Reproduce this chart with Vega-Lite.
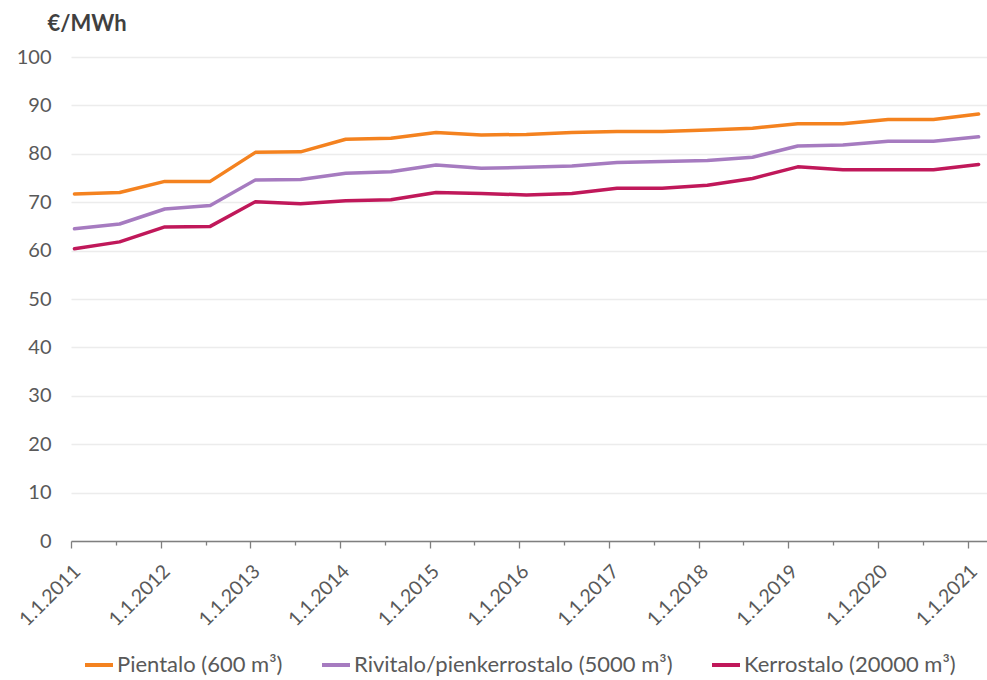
{
  "$schema": "https://vega.github.io/schema/vega-lite/v6.json",
  "width": 916,
  "height": 484,
  "autosize": {"type": "none"},
  "padding": {"left": 71, "top": 57, "right": 0, "bottom": 139},
  "background": "white",
  "config": {
    "view": {"stroke": null},
    "font": "Lato",
    "axis": {"labelFont": "Lato", "titleFont": "Lato", "labelColor": "#595959", "titleColor": "#404040"},
    "legend": {"labelFont": "Lato"}
  },
  "datasets": {
    "hinnat": [
      {"pvm": "2011-01-15", "sarja": "Pientalo (600 m³)", "arvo": 71.7},
      {"pvm": "2011-07-18", "sarja": "Pientalo (600 m³)", "arvo": 72.0},
      {"pvm": "2012-01-18", "sarja": "Pientalo (600 m³)", "arvo": 74.3},
      {"pvm": "2012-07-21", "sarja": "Pientalo (600 m³)", "arvo": 74.3},
      {"pvm": "2013-01-21", "sarja": "Pientalo (600 m³)", "arvo": 80.3},
      {"pvm": "2013-07-24", "sarja": "Pientalo (600 m³)", "arvo": 80.4},
      {"pvm": "2014-01-24", "sarja": "Pientalo (600 m³)", "arvo": 83.0},
      {"pvm": "2014-07-27", "sarja": "Pientalo (600 m³)", "arvo": 83.2},
      {"pvm": "2015-01-27", "sarja": "Pientalo (600 m³)", "arvo": 84.4},
      {"pvm": "2015-07-30", "sarja": "Pientalo (600 m³)", "arvo": 83.9},
      {"pvm": "2016-01-30", "sarja": "Pientalo (600 m³)", "arvo": 84.0},
      {"pvm": "2016-08-02", "sarja": "Pientalo (600 m³)", "arvo": 84.4},
      {"pvm": "2017-02-02", "sarja": "Pientalo (600 m³)", "arvo": 84.6},
      {"pvm": "2017-08-05", "sarja": "Pientalo (600 m³)", "arvo": 84.6},
      {"pvm": "2018-02-05", "sarja": "Pientalo (600 m³)", "arvo": 84.9},
      {"pvm": "2018-08-08", "sarja": "Pientalo (600 m³)", "arvo": 85.3},
      {"pvm": "2019-02-08", "sarja": "Pientalo (600 m³)", "arvo": 86.2},
      {"pvm": "2019-08-11", "sarja": "Pientalo (600 m³)", "arvo": 86.2},
      {"pvm": "2020-02-11", "sarja": "Pientalo (600 m³)", "arvo": 87.1},
      {"pvm": "2020-08-14", "sarja": "Pientalo (600 m³)", "arvo": 87.1},
      {"pvm": "2021-02-14", "sarja": "Pientalo (600 m³)", "arvo": 88.2},
      {"pvm": "2011-01-15", "sarja": "Rivitalo/pienkerrostalo (5000 m³)", "arvo": 64.5},
      {"pvm": "2011-07-18", "sarja": "Rivitalo/pienkerrostalo (5000 m³)", "arvo": 65.5},
      {"pvm": "2012-01-18", "sarja": "Rivitalo/pienkerrostalo (5000 m³)", "arvo": 68.6},
      {"pvm": "2012-07-21", "sarja": "Rivitalo/pienkerrostalo (5000 m³)", "arvo": 69.3},
      {"pvm": "2013-01-21", "sarja": "Rivitalo/pienkerrostalo (5000 m³)", "arvo": 74.6},
      {"pvm": "2013-07-24", "sarja": "Rivitalo/pienkerrostalo (5000 m³)", "arvo": 74.7},
      {"pvm": "2014-01-24", "sarja": "Rivitalo/pienkerrostalo (5000 m³)", "arvo": 76.0},
      {"pvm": "2014-07-27", "sarja": "Rivitalo/pienkerrostalo (5000 m³)", "arvo": 76.3},
      {"pvm": "2015-01-27", "sarja": "Rivitalo/pienkerrostalo (5000 m³)", "arvo": 77.7},
      {"pvm": "2015-07-30", "sarja": "Rivitalo/pienkerrostalo (5000 m³)", "arvo": 77.0},
      {"pvm": "2016-01-30", "sarja": "Rivitalo/pienkerrostalo (5000 m³)", "arvo": 77.2},
      {"pvm": "2016-08-02", "sarja": "Rivitalo/pienkerrostalo (5000 m³)", "arvo": 77.5},
      {"pvm": "2017-02-02", "sarja": "Rivitalo/pienkerrostalo (5000 m³)", "arvo": 78.2},
      {"pvm": "2017-08-05", "sarja": "Rivitalo/pienkerrostalo (5000 m³)", "arvo": 78.4},
      {"pvm": "2018-02-05", "sarja": "Rivitalo/pienkerrostalo (5000 m³)", "arvo": 78.6},
      {"pvm": "2018-08-08", "sarja": "Rivitalo/pienkerrostalo (5000 m³)", "arvo": 79.3},
      {"pvm": "2019-02-08", "sarja": "Rivitalo/pienkerrostalo (5000 m³)", "arvo": 81.6},
      {"pvm": "2019-08-11", "sarja": "Rivitalo/pienkerrostalo (5000 m³)", "arvo": 81.8},
      {"pvm": "2020-02-11", "sarja": "Rivitalo/pienkerrostalo (5000 m³)", "arvo": 82.6},
      {"pvm": "2020-08-14", "sarja": "Rivitalo/pienkerrostalo (5000 m³)", "arvo": 82.6},
      {"pvm": "2021-02-14", "sarja": "Rivitalo/pienkerrostalo (5000 m³)", "arvo": 83.5},
      {"pvm": "2011-01-15", "sarja": "Kerrostalo (20000 m³)", "arvo": 60.4},
      {"pvm": "2011-07-18", "sarja": "Kerrostalo (20000 m³)", "arvo": 61.8},
      {"pvm": "2012-01-18", "sarja": "Kerrostalo (20000 m³)", "arvo": 64.9},
      {"pvm": "2012-07-21", "sarja": "Kerrostalo (20000 m³)", "arvo": 65.0},
      {"pvm": "2013-01-21", "sarja": "Kerrostalo (20000 m³)", "arvo": 70.1},
      {"pvm": "2013-07-24", "sarja": "Kerrostalo (20000 m³)", "arvo": 69.7},
      {"pvm": "2014-01-24", "sarja": "Kerrostalo (20000 m³)", "arvo": 70.3},
      {"pvm": "2014-07-27", "sarja": "Kerrostalo (20000 m³)", "arvo": 70.5},
      {"pvm": "2015-01-27", "sarja": "Kerrostalo (20000 m³)", "arvo": 72.0},
      {"pvm": "2015-07-30", "sarja": "Kerrostalo (20000 m³)", "arvo": 71.8},
      {"pvm": "2016-01-30", "sarja": "Kerrostalo (20000 m³)", "arvo": 71.5},
      {"pvm": "2016-08-02", "sarja": "Kerrostalo (20000 m³)", "arvo": 71.8},
      {"pvm": "2017-02-02", "sarja": "Kerrostalo (20000 m³)", "arvo": 72.9},
      {"pvm": "2017-08-05", "sarja": "Kerrostalo (20000 m³)", "arvo": 72.9},
      {"pvm": "2018-02-05", "sarja": "Kerrostalo (20000 m³)", "arvo": 73.5},
      {"pvm": "2018-08-08", "sarja": "Kerrostalo (20000 m³)", "arvo": 74.9},
      {"pvm": "2019-02-08", "sarja": "Kerrostalo (20000 m³)", "arvo": 77.3},
      {"pvm": "2019-08-11", "sarja": "Kerrostalo (20000 m³)", "arvo": 76.7},
      {"pvm": "2020-02-11", "sarja": "Kerrostalo (20000 m³)", "arvo": 76.7},
      {"pvm": "2020-08-14", "sarja": "Kerrostalo (20000 m³)", "arvo": 76.7},
      {"pvm": "2021-02-14", "sarja": "Kerrostalo (20000 m³)", "arvo": 77.8}
    ]
  },
  "data": {"name": "hinnat"},
  "mark": {"type": "line", "strokeWidth": 3.5, "strokeCap": "round", "strokeJoin": "round"},
  "encoding": {
    "x": {
      "field": "pvm",
      "type": "temporal",
      "scale": {
        "type": "utc",
        "domain": [
          {"year": 2011, "month": 1, "date": 1, "utc": true},
          {"year": 2021, "month": 3, "date": 20, "utc": true}
        ],
        "nice": false
      },
      "axis": {
        "title": null,
        "grid": false,
        "values": [
          {"year": 2011, "month": 1, "date": 1, "utc": true},
          {"year": 2011, "month": 7, "date": 2, "utc": true},
          {"year": 2012, "month": 1, "date": 1, "utc": true},
          {"year": 2012, "month": 7, "date": 2, "utc": true},
          {"year": 2013, "month": 1, "date": 1, "utc": true},
          {"year": 2013, "month": 7, "date": 2, "utc": true},
          {"year": 2014, "month": 1, "date": 1, "utc": true},
          {"year": 2014, "month": 7, "date": 2, "utc": true},
          {"year": 2015, "month": 1, "date": 1, "utc": true},
          {"year": 2015, "month": 7, "date": 2, "utc": true},
          {"year": 2016, "month": 1, "date": 1, "utc": true},
          {"year": 2016, "month": 7, "date": 2, "utc": true},
          {"year": 2017, "month": 1, "date": 1, "utc": true},
          {"year": 2017, "month": 7, "date": 2, "utc": true},
          {"year": 2018, "month": 1, "date": 1, "utc": true},
          {"year": 2018, "month": 7, "date": 2, "utc": true},
          {"year": 2019, "month": 1, "date": 1, "utc": true},
          {"year": 2019, "month": 7, "date": 2, "utc": true},
          {"year": 2020, "month": 1, "date": 1, "utc": true},
          {"year": 2020, "month": 7, "date": 2, "utc": true},
          {"year": 2021, "month": 1, "date": 1, "utc": true}
        ],
        "labelExpr": "utcmonth(datum.value) == 0 ? '1.1.' + utcyear(datum.value) : ''",
        "labelAngle": -45,
        "labelAlign": "right",
        "labelBaseline": "middle",
        "labelFontSize": 19.5,
        "labelPadding": 20,
        "labelOffset": 6,
        "labelOverlap": false,
        "labelFlush": false,
        "domainColor": "#7f7f7f",
        "domainWidth": 1.3,
        "tickColor": "#7f7f7f",
        "tickWidth": 1.3,
        "tickSize": {"condition": {"test": "utcmonth(datum.value) == 0", "value": 7}, "value": 4}
      }
    },
    "y": {
      "field": "arvo",
      "type": "quantitative",
      "scale": {"domain": [0, 100], "nice": false},
      "axis": {
        "values": [0, 10, 20, 30, 40, 50, 60, 70, 80, 90, 100],
        "title": "€/MWh",
        "titleAngle": 0,
        "titleAlign": "left",
        "titleBaseline": "alphabetic",
        "titleX": -24,
        "titleY": -27,
        "titleFontSize": 22,
        "titleFontWeight": "bold",
        "labelFontSize": 20,
        "labelPadding": 20,
        "domain": false,
        "ticks": false,
        "gridColor": "#ececec",
        "gridWidth": 1.3
      }
    },
    "color": {
      "field": "sarja",
      "type": "nominal",
      "sort": ["Pientalo (600 m³)", "Rivitalo/pienkerrostalo (5000 m³)", "Kerrostalo (20000 m³)"],
      "scale": {
        "domain": ["Pientalo (600 m³)", "Rivitalo/pienkerrostalo (5000 m³)", "Kerrostalo (20000 m³)"],
        "range": ["#f4821f", "#a67bc0", "#c0185a"]
      },
      "legend": {
        "title": null,
        "orient": "none",
        "direction": "horizontal",
        "legendX": 12,
        "legendY": 592,
        "symbolType": "stroke",
        "symbolSize": 784,
        "symbolStrokeWidth": 4,
        "labelFontSize": 22,
        "labelColor": "#595959",
        "labelOffset": 2,
        "columnPadding": 31,
        "labelLimit": 500
      }
    }
  }
}
